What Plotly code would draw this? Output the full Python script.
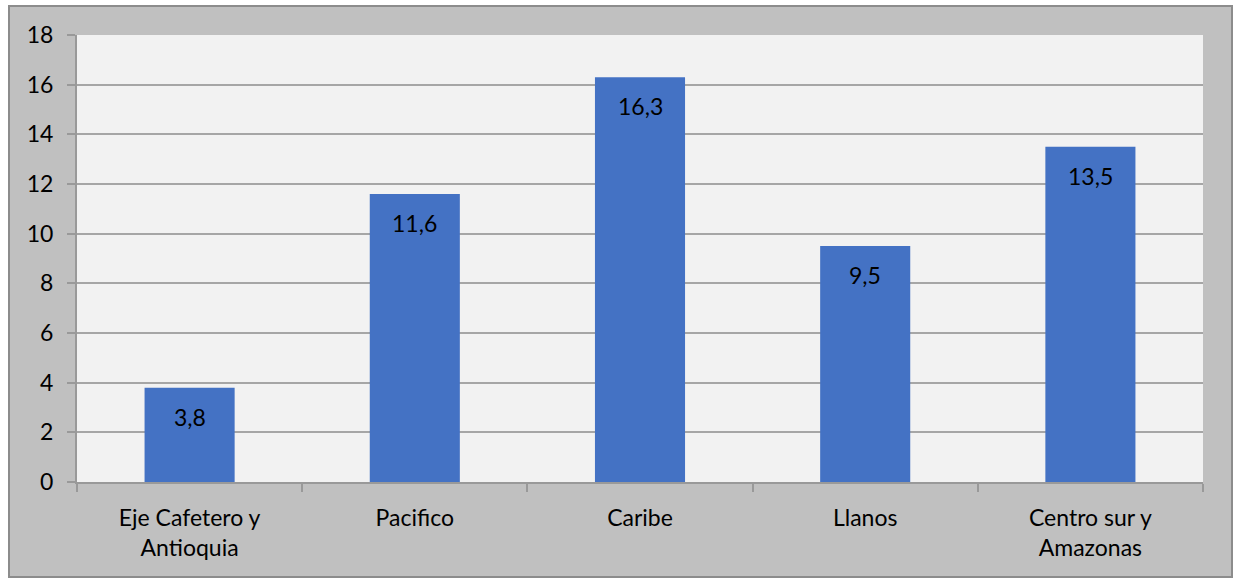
import plotly.graph_objects as go

categories = ["Eje Cafetero y<br>Antioquia", "Pacifico", "Caribe", "Llanos", "Centro sur y<br>Amazonas"]
values = [3.8, 11.6, 16.3, 9.5, 13.5]
labels = [f"{v:.1f}".replace(".", ",") for v in values]
y_ticks = [0, 2, 4, 6, 8, 10, 12, 14, 16, 18]

FONT = "Lato, Calibri, Carlito, sans-serif"
FS = 23
W, H = 1238, 579
L, R, T, B = 77, 35, 35, 97
pw, ph = W - L - R, H - T - B

def px_x(p):
    return (p - L) / pw

def px_y(p):
    return (H - B - p) / ph

fig = go.Figure()
fig.add_trace(go.Bar(
    x=categories, y=values,
    marker=dict(color="#4472C4", line=dict(width=0)),
    hoverinfo="skip",
))

for c, v, t in zip(categories, values, labels):
    fig.add_annotation(x=c, y=v, text=t, showarrow=False, yanchor="top",
                       yshift=-13, font=dict(family=FONT, size=FS, color="#000000"))

fig.add_shape(type="rect", xref="paper", yref="paper",
              x0=px_x(9), x1=px_x(1232), y0=px_y(577), y1=px_y(6),
              fillcolor="#c0c0c0", line=dict(color="#8c8c8c", width=2), layer="below")
fig.add_shape(type="rect", xref="paper", yref="paper",
              x0=0, x1=1, y0=0, y1=1,
              fillcolor="#f2f2f2", line=dict(width=0), layer="below")

fig.update_layout(
    width=W, height=H,
    margin=dict(l=L, r=R, t=T, b=B, pad=0),
    paper_bgcolor="#ffffff",
    plot_bgcolor="#f2f2f2",
    bargap=0.6,
    showlegend=False,
    font=dict(family=FONT, size=FS, color="#000000"),
    xaxis=dict(
        showgrid=False, showline=True, linecolor="#999999", linewidth=2,
        ticks="outside", ticklen=8, tickcolor="#999999", tickwidth=2,
        tickson="boundaries", tickfont=dict(family=FONT, size=FS, color="#000000"),
        ticklabelstandoff=14,
    ),
    yaxis=dict(
        range=[0, 18], tickvals=y_ticks, showgrid=True, gridcolor="#a6a6a6", gridwidth=1.5,
        showline=True, linecolor="#999999", linewidth=2,
        ticks="outside", ticklen=8, tickcolor="#999999", tickwidth=2,
        zeroline=False, tickfont=dict(family=FONT, size=FS, color="#000000"),
        ticklabelstandoff=9,
    ),
)

fig.write_html("out.html")
